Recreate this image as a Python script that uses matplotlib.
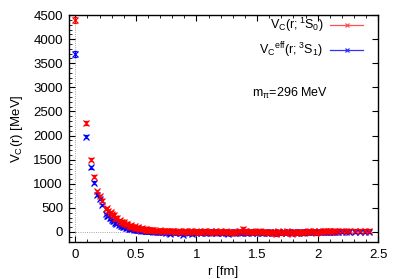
#!/usr/bin/env python

import matplotlib
matplotlib.use('Agg')
import matplotlib.pyplot as plt
from matplotlib.ticker import MultipleLocator


# data (r in fm, V in MeV)
r_short = [0.0, 0.091, 0.128, 0.157, 0.181, 0.203, 0.222, 0.257, 0.272, 0.287,
           0.301, 0.314, 0.327, 0.339, 0.363, 0.374, 0.385, 0.395, 0.406, 0.416,
           0.425, 0.444, 0.454, 0.462, 0.471, 0.488, 0.497, 0.513, 0.521, 0.529,
           0.537, 0.544, 0.559, 0.574, 0.581, 0.588, 0.595, 0.602, 0.608, 0.615,
           0.628, 0.635, 0.641]
v1s0_short = [4400, 2260, 1500, 1145, 845, 750, 650, 480, 440, 400,
              365, 330, 300, 275, 235, 215, 200, 180, 170, 158,
              145, 128, 118, 110, 100, 92, 88, 80, 76, 72,
              68, 64, 58, 52, 50, 47, 44, 42, 40, 38,
              35, 33, 31]
v3s1_short = [3700, 1980, 1340, 1025, 775, 680, 555, 370, 330, 290,
              255, 225, 195, 175, 145, 132, 120, 110, 100, 92,
              85, 72, 66, 60, 56, 50, 46, 40, 38, 35,
              32, 30, 27, 24, 22, 20, 18, 16, 15, 13,
              11, 10, 8]
err_short = [60, 35, 30, 28, 25, 25, 25, 25, 22, 22,
             22, 22, 20, 20, 20, 20, 20, 20, 20, 20,
             20, 20, 20, 20, 20, 20, 20, 20, 20, 20,
             20, 20, 20, 20, 20, 20, 20, 20, 20, 20,
             20, 20, 20]

# off-axis lattice points with same-ish r (scatter in the falling part)
r_mid = [0.265, 0.295, 0.32, 0.345, 0.37, 0.4, 0.43, 0.46, 0.49, 0.52,
         0.55, 0.58, 0.61]
v1s0_mid = [500, 420, 360, 300, 250, 210, 170, 140, 115, 95,
            80, 65, 50]
v3s1_mid = [340, 280, 230, 190, 160, 125, 100, 80, 62, 50,
            40, 30, 22]

r_band = [0.66, 0.685, 0.71, 0.735, 0.76, 0.785, 0.81, 0.835, 0.86, 0.885,
          0.91, 0.935, 0.96, 0.985, 1.01, 1.035, 1.06, 1.085, 1.11, 1.135,
          1.16, 1.185, 1.21, 1.235, 1.26, 1.285, 1.31, 1.335, 1.36, 1.385,
          1.41, 1.435, 1.46, 1.485, 1.51, 1.535, 1.56, 1.585, 1.61, 1.635,
          1.66, 1.685, 1.71, 1.735, 1.76, 1.785, 1.81, 1.835, 1.86, 1.885,
          1.91, 1.935, 1.96, 1.985, 2.01, 2.035, 2.06, 2.085, 2.11, 2.135,
          2.17, 2.2, 2.23, 2.26, 2.31, 2.35, 2.39, 2.42]
v1s0_band = [30, 25, 28, 18, 22, 12, 18, 8, 15, 5,
             12, 2, 10, -5, 8, 0, 12, -8, 5, -3,
             10, -10, 4, -2, 8, -12, 3, -5, 10, 65,
             5, -8, 6, -4, 10, -10, 2, -6, 8, -15,
             -40, -5, 6, -12, 2, -35, -8, 5, -10, 8,
             -3, 10, -5, -30, 12, 8, 15, 10, 18, 12,
             22, 28, 18, 25, 20, 22, 18, 24]
v3s1_band = [5, 0, 8, -5, 2, -35, -8, 0, -12, -55,
             -5, -15, -40, -8, -2, -15, -5, -20, -8, -2,
             -15, -5, -25, -10, -35, -5, -15, -8, -20, -5,
             -12, -3, -18, -8, -2, -15, -6, -20, -4, -10,
             -25, -8, -3, -15, -6, -10, -2, -18, -5, -12,
             0, -8, 2, -5, 5, 0, 8, 2, 6, 3,
             5, 0, 8, 2, -2, 3, 0, 2]

r_band2 = [0.672, 0.697, 0.722, 0.747, 0.772, 0.797, 0.822, 0.847, 0.872, 0.897,
           0.922, 0.947, 0.972, 0.997, 1.022, 1.047, 1.072, 1.097, 1.122, 1.147,
           1.172, 1.197, 1.222, 1.247, 1.272, 1.297, 1.322, 1.347, 1.372, 1.397,
           1.422, 1.447, 1.472, 1.497, 1.522, 1.547, 1.572, 1.597, 1.622, 1.647,
           1.672, 1.697, 1.722, 1.747, 1.772, 1.797, 1.822, 1.847, 1.872, 1.897,
           1.922, 1.947, 1.972, 1.997, 2.022, 2.047, 2.072, 2.097, 2.122, 2.147]
v1s0_band2 = [20, 35, 15, 25, 10, 20, 5, 15, 0, 10,
              -5, 12, 3, 15, -8, 6, 20, -2, 10, -12,
              5, 15, -6, 10, -3, 8, -15, 12, 2, 30,
              -5, 10, -10, 4, 15, -5, 8, -20, 5, -8,
              10, -30, 3, 12, -5, 8, -12, 4, -25, 6,
              10, -6, 14, 3, 6, 18, 10, 22, 8, 15]
v3s1_band2 = [0, -8, 4, -12, -20, 2, -15, -6, -30, -10,
              -20, -2, -12, -25, -6, -10, -30, -3, -14, -8,
              -20, -4, -12, -18, -6, -22, -10, -4, -15, -8,
              -18, -6, -10, -25, -4, -12, -8, -15, -20, -5,
              -10, -14, -6, -8, -20, -4, -12, -6, -10, -3,
              -8, -2, -10, 0, 2, -4, 4, 6, 0, 4]

r_all = r_short + r_mid + r_band + r_band2
v1s0 = v1s0_short + v1s0_mid + v1s0_band + v1s0_band2
v3s1 = v3s1_short + v3s1_mid + v3s1_band + v3s1_band2
err_red = err_short + [25] * len(r_mid) + [35] * (len(r_band) + len(r_band2))
err_blue = err_short + [22] * len(r_mid) + [25] * (len(r_band) + len(r_band2))


plt.rcParams['font.family'] = ['Liberation Sans', 'DejaVu Sans']
plt.rcParams['mathtext.fontset'] = 'custom'
plt.rcParams['mathtext.rm'] = 'Liberation Sans'
plt.rcParams['mathtext.it'] = 'Liberation Sans:italic'

fig = plt.figure(figsize=(3.99, 2.79), dpi=100)
ax = fig.add_axes([0.172, 0.134, 0.776, 0.812])

ax.axhline(0, color='#888888', ls=':', lw=0.6, zorder=0)
ax.axvline(0, color='#888888', ls=':', lw=0.6, zorder=0)

style = dict(fmt='x', ms=4, mew=0.9, elinewidth=0.8, capsize=1.6, capthick=0.8)
ax.errorbar(r_all, v3s1, yerr=err_blue, color='blue', **style)
ax.errorbar(r_all, v1s0, yerr=err_red, color='red', **style)

# legend samples (line + marker)
l_red, = ax.plot([], [], color='#ff5050', marker='x', ms=3.5, mew=0.9, lw=0.9)
l_blue, = ax.plot([], [], color='#3030ff', marker='x', ms=3.5, mew=0.9, lw=0.9)
leg = ax.legend([l_red, l_blue],
                [r'$\mathregular{V_C(r;^1S_0)}$', r'$\mathregular{V_C{}^{eff}(r;^3S_1)}$'],
                loc='upper right', bbox_to_anchor=(0.951, 0.995), frameon=False,
                markerfirst=False, fontsize=9, handlelength=2.65,
                handletextpad=0.55, labelspacing=0.5, borderpad=0,
                borderaxespad=0)
for t in leg.get_texts():
    t.set_ha('right')

ax.text(0.715, 0.656, r'$\mathregular{m_\pi}$=296 MeV', transform=ax.transAxes,
        fontsize=9, ha='center', va='center')

ax.set_xlim(-0.055, 2.5)
ax.set_ylim(-200, 4500)
ax.xaxis.set_minor_locator(MultipleLocator(0.1))
ax.yaxis.set_major_locator(MultipleLocator(500))
ax.yaxis.set_minor_locator(MultipleLocator(100))
ax.set_xticks([0, 0.5, 1, 1.5, 2, 2.5])
ax.set_xticklabels(['0', '0.5', '1', '1.5', '2', '2.5'])
ax.tick_params(which='both', direction='in', top=True, right=True, labelsize=9.5)
ax.tick_params(which='major', length=4, width=0.8, pad=4)
ax.tick_params(axis='x', which='major', pad=5)
ax.tick_params(which='minor', length=2, width=0.6, right=False)
for s in ax.spines.values():
    s.set_linewidth(1.0)

ax.set_xlabel('r [fm]', fontsize=9.5, labelpad=4)
ax.set_ylabel(r'$\mathregular{V_C(r)}$ [MeV]', fontsize=9.5, labelpad=6)

fig.savefig('out.png', dpi=100)
